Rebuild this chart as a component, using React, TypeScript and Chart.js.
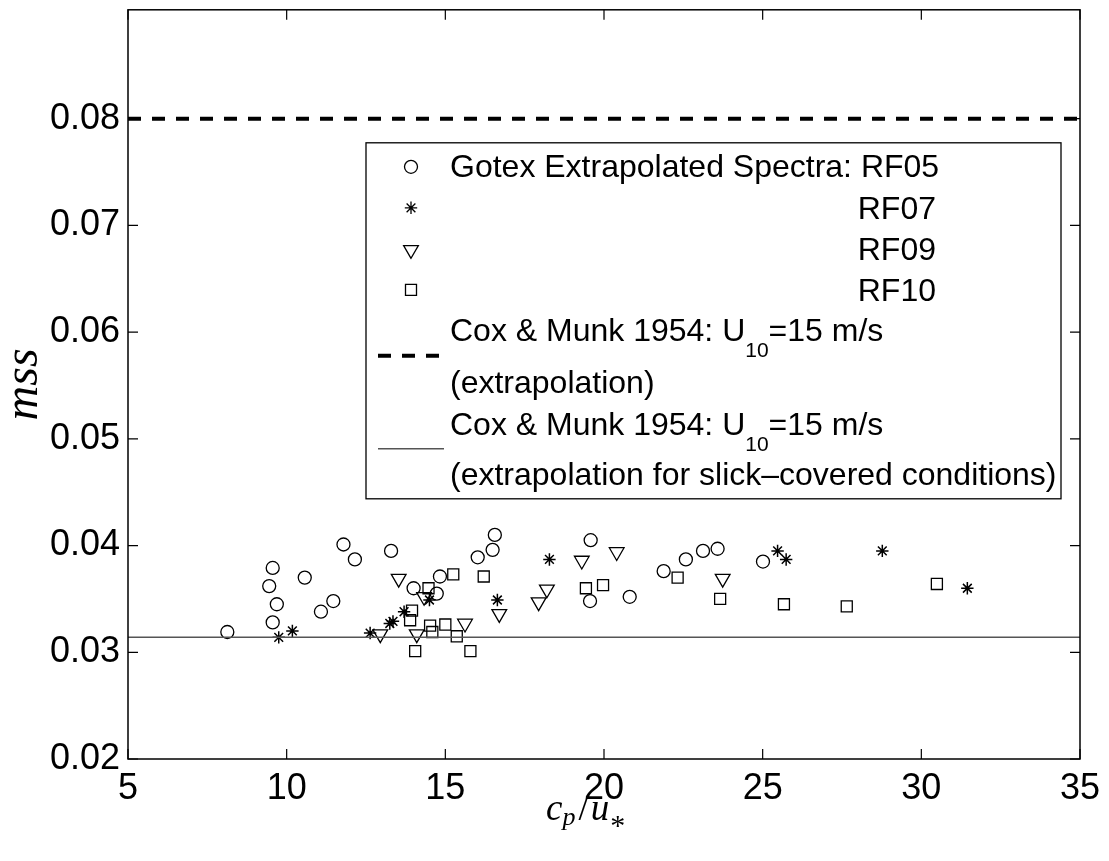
import React, { useEffect, useRef } from 'react';
import { Chart, registerables } from 'chart.js';

Chart.register(...registerables);

// ---- data ----
const rf05X = [8.13, 9.56, 9.45, 9.69, 9.56, 10.57, 11.08, 11.47, 11.79, 12.15, 13.29, 14.0, 14.83, 14.73, 16.02, 16.49, 16.56, 19.58, 19.56, 20.81, 21.88, 22.58, 23.12, 23.58, 25.01];
const rf05Y = [0.0319, 0.0379, 0.0362, 0.0345, 0.0328, 0.0370, 0.0338, 0.0348, 0.0401, 0.0387, 0.0395, 0.0360, 0.0371, 0.0355, 0.0389, 0.0396, 0.0410, 0.0405, 0.0348, 0.0352, 0.0376, 0.0387, 0.0395, 0.0397, 0.0385];

const rf07X = [9.75, 10.18, 12.63, 13.25, 13.35, 13.70, 14.50, 16.64, 18.28, 25.47, 25.74, 28.77, 31.45];
const rf07Y = [0.0314, 0.0320, 0.0318, 0.0327, 0.0329, 0.0338, 0.0349, 0.0349, 0.0387, 0.0395, 0.0387, 0.0395, 0.0360];

const rf09X = [12.95, 13.53, 14.10, 14.33, 15.62, 16.70, 17.94, 18.20, 19.30, 20.40, 23.74];
const rf09Y = [0.0317, 0.0369, 0.0317, 0.0352, 0.0327, 0.0336, 0.0347, 0.0359, 0.0386, 0.0394, 0.0369];

const rf10X = [13.89, 13.95, 14.05, 14.47, 14.52, 14.59, 15.00, 15.25, 15.36, 15.79, 16.21, 19.43, 19.97, 22.32, 23.66, 25.67, 27.65, 30.49];
const rf10Y = [0.0330, 0.0339, 0.0301, 0.0360, 0.0325, 0.0319, 0.0326, 0.0373, 0.0315, 0.0301, 0.0371, 0.0360, 0.0363, 0.0370, 0.0350, 0.0345, 0.0343, 0.0364];

const coxMunkClean = 0.08;
const coxMunkSlick = 0.0314;

const xRange = [5, 35];
const yRange = [0.02, 0.0902];
const xTicks = [5, 10, 15, 20, 25, 30, 35];
const yTicks = [0.02, 0.03, 0.04, 0.05, 0.06, 0.07, 0.08];

const seriesLabels = ['RF05', 'RF07', 'RF09', 'RF10'];
const legendHead = 'Gotex Extrapolated Spectra: ';
const coxLabelPre = 'Cox & Munk 1954: U';
const coxLabelSub = '10';
const coxLabelPost = '=15 m/s';
const coxNote1 = '(extrapolation)';
const coxNote2 = '(extrapolation for slick\u2013covered conditions)';

const pts = (xs: number[], ys: number[]) => xs.map((x, i) => ({ x, y: ys[i] }));

const SANS = '"Liberation Sans", Arial, sans-serif';
const SERIF = '"Liberation Serif", "Times New Roman", serif';

function drawMarker(ctx: CanvasRenderingContext2D, style: string, x: number, y: number) {
  ctx.beginPath();
  if (style === 'circle') {
    ctx.arc(x, y, 6.5, 0, Math.PI * 2);
  } else if (style === 'star') {
    const r = 6.2;
    ctx.moveTo(x - r, y); ctx.lineTo(x + r, y);
    ctx.moveTo(x, y - r); ctx.lineTo(x, y + r);
    const d = r * Math.SQRT1_2;
    ctx.moveTo(x - d, y - d); ctx.lineTo(x + d, y + d);
    ctx.moveTo(x - d, y + d); ctx.lineTo(x + d, y - d);
  } else if (style === 'triangle') {
    const r = 8.5;
    const w = r * Math.sin(Math.PI / 3);
    ctx.moveTo(x, y + r);
    ctx.lineTo(x - w, y - r / 2);
    ctx.lineTo(x + w, y - r / 2);
    ctx.closePath();
  } else if (style === 'rect') {
    ctx.rect(x - 5.5, y - 5.5, 11, 11);
  }
  ctx.stroke();
}

export default function App() {
  const ref = useRef<HTMLCanvasElement>(null);

  useEffect(() => {
    if (!ref.current) return;

    const overlay = {
      id: 'overlay',
      afterDatasetsDraw(chart: any) {
        const { ctx, chartArea: a, scales } = chart;
        ctx.save();
        // frame
        ctx.strokeStyle = '#000';
        ctx.lineWidth = 1.5;
        ctx.strokeRect(a.left, a.top, a.right - a.left, a.bottom - a.top);
        // inward ticks on all four sides
        const tl = 10;
        ctx.lineWidth = 1.2;
        ctx.beginPath();
        xTicks.forEach((v) => {
          const px = scales.x.getPixelForValue(v);
          ctx.moveTo(px, a.bottom); ctx.lineTo(px, a.bottom - tl);
          ctx.moveTo(px, a.top); ctx.lineTo(px, a.top + tl);
        });
        yTicks.forEach((v) => {
          const py = scales.y.getPixelForValue(v);
          ctx.moveTo(a.left, py); ctx.lineTo(a.left + tl, py);
          ctx.moveTo(a.right, py); ctx.lineTo(a.right - tl, py);
        });
        ctx.stroke();

        // y-axis title (mss, italic math)
        ctx.fillStyle = '#000';
        ctx.save();
        ctx.translate(37, (a.top + a.bottom) / 2);
        ctx.rotate(-Math.PI / 2);
        ctx.font = `italic 48px ${SERIF}`;
        ctx.textAlign = 'center';
        ctx.textBaseline = 'alphabetic';
        ctx.fillText('mss', 0, 0);
        ctx.restore();

        // x-axis title c_p / u_*
        ctx.textAlign = 'left';
        ctx.textBaseline = 'alphabetic';
        let cx = (a.left + a.right) / 2 - 58;
        const by = 820;
        ctx.font = `italic 37px ${SERIF}`;
        ctx.fillText('c', cx, by); cx += ctx.measureText('c').width;
        ctx.font = `italic 26px ${SERIF}`;
        ctx.fillText('p', cx, by + 5); cx += ctx.measureText('p').width + 3;
        ctx.font = `37px ${SERIF}`;
        ctx.fillText('/', cx, by); cx += ctx.measureText('/').width + 2;
        ctx.font = `italic 37px ${SERIF}`;
        ctx.fillText('u', cx, by); cx += ctx.measureText('u').width + 1;
        ctx.font = `30px ${SERIF}`;
        ctx.fillText('*', cx, by + 15);

        // legend box
        const L = a.left + 238, T = a.top + 133, R = a.left + 933, B = a.top + 489;
        ctx.fillStyle = '#fff';
        ctx.fillRect(L, T, R - L, B - T);
        ctx.strokeStyle = '#000';
        ctx.lineWidth = 1.3;
        ctx.strokeRect(L, T, R - L, B - T);

        const mx = L + 45;
        const tx = L + 84;
        const rAlign = L + 570;
        ctx.fillStyle = '#000';
        ctx.font = `32px ${SANS}`;
        // series rows
        const rowBase = [T + 34, T + 76, T + 117, T + 158];
        const rowMark = [T + 24, T + 65, T + 107, T + 147];
        const styles = ['circle', 'star', 'triangle', 'rect'];
        ctx.lineWidth = 1.3;
        styles.forEach((s, i) => {
          ctx.strokeStyle = '#000';
          drawMarker(ctx, s, mx, rowMark[i]);
          if (i === 0) {
            ctx.textAlign = 'left';
            ctx.fillText(legendHead + seriesLabels[0], tx, rowBase[0]);
          } else {
            ctx.textAlign = 'right';
            ctx.fillText(seriesLabels[i], rAlign, rowBase[i]);
          }
        });
        ctx.textAlign = 'left';
        const drawCox = (base: number) => {
          let x = tx;
          ctx.font = `32px ${SANS}`;
          ctx.fillText(coxLabelPre, x, base); x += ctx.measureText(coxLabelPre).width;
          ctx.font = `21px ${SANS}`;
          ctx.fillText(coxLabelSub, x, base + 16); x += ctx.measureText(coxLabelSub).width;
          ctx.font = `32px ${SANS}`;
          ctx.fillText(coxLabelPost, x, base);
        };
        drawCox(T + 198);
        ctx.fillText(coxNote1, tx, T + 250);
        drawCox(T + 292);
        ctx.font = `32px ${SANS}`;
        ctx.fillText(coxNote2, tx, T + 342);

        ctx.beginPath();
        ctx.strokeStyle = '#000';
        ctx.lineWidth = 4;
        ctx.setLineDash([13, 11]);
        ctx.moveTo(L + 12, T + 213); ctx.lineTo(L + 78, T + 213);
        ctx.stroke();
        ctx.setLineDash([]);
        ctx.beginPath();
        ctx.strokeStyle = '#555';
        ctx.lineWidth = 1.5;
        ctx.moveTo(L + 12, T + 306); ctx.lineTo(L + 78, T + 306);
        ctx.stroke();

        ctx.restore();
      },
    };

    const marker = (data: any[], style: string, radius: number, label: string, bw: number) => ({
      type: 'scatter' as const,
      label,
      data,
      pointStyle: style,
      pointRadius: radius,
      pointHoverRadius: radius,
      pointRotation: style === 'triangle' ? 180 : 0,
      pointBorderWidth: bw,
      borderColor: '#000',
      backgroundColor: 'rgba(0,0,0,0)',
      showLine: false,
    });

    const chart = new Chart(ref.current, {
      type: 'scatter',
      data: {
        datasets: [
          {
            type: 'line' as const,
            label: 'clean',
            data: [{ x: xRange[0], y: coxMunkClean }, { x: xRange[1], y: coxMunkClean }],
            borderColor: '#000',
            borderWidth: 4,
            borderDash: [13, 11],
            pointRadius: 0,
            fill: false,
          },
          {
            type: 'line' as const,
            label: 'slick',
            data: [{ x: xRange[0], y: coxMunkSlick }, { x: xRange[1], y: coxMunkSlick }],
            borderColor: '#555',
            borderWidth: 1.5,
            pointRadius: 0,
            fill: false,
          },
          marker(pts(rf05X, rf05Y), 'circle', 6.5, seriesLabels[0], 1.3),
          marker(pts(rf07X, rf07Y), 'star', 6.2, seriesLabels[1], 1.5),
          marker(pts(rf09X, rf09Y), 'triangle', 8.5, seriesLabels[2], 1.3),
          marker(pts(rf10X, rf10Y), 'rect', 7.8, seriesLabels[3], 1.3),
        ] as any,
      },
      options: {
        responsive: false,
        animation: false,
        devicePixelRatio: 1,
        layout: { padding: { top: 7, right: 29, left: 0, bottom: 0 } },
        plugins: { legend: { display: false }, tooltip: { enabled: false } },
        events: [],
        scales: {
          x: {
            type: 'linear',
            min: xRange[0],
            max: xRange[1],
            afterBuildTicks: (s: any) => { s.ticks = xTicks.map((v) => ({ value: v })); },
            afterFit: (s: any) => { s.height = 102; s.paddingLeft = 0; s.paddingRight = 0; s.paddingTop = 0; s.paddingBottom = 0; },
            grid: { display: false, drawTicks: false },
            border: { display: false },
            ticks: {
              color: '#000',
              font: { family: SANS, size: 36 },
              padding: 8,
              maxRotation: 0,
              autoSkip: false,
              callback: (v: any) => String(v),
            },
          },
          y: {
            type: 'linear',
            min: yRange[0],
            max: yRange[1],
            afterBuildTicks: (s: any) => { s.ticks = yTicks.map((v) => ({ value: v })); },
            afterFit: (s: any) => { s.width = 128; s.paddingTop = 0; s.paddingBottom = 0; s.paddingLeft = 0; s.paddingRight = 0; },
            grid: { display: false, drawTicks: false },
            border: { display: false },
            ticks: {
              color: '#000',
              font: { family: SANS, size: 36 },
              padding: 8,
              autoSkip: false,
              callback: (v: any) => Number(v).toFixed(2),
            },
          },
        },
      },
      plugins: [overlay],
    });

    return () => chart.destroy();
  }, []);

  return (
    <div style={{ position: 'absolute', left: 0, top: 0, width: 1109, height: 861, background: '#fff' }}>
      <canvas ref={ref} width={1109} height={861} style={{ display: 'block' }} />
    </div>
  );
}
